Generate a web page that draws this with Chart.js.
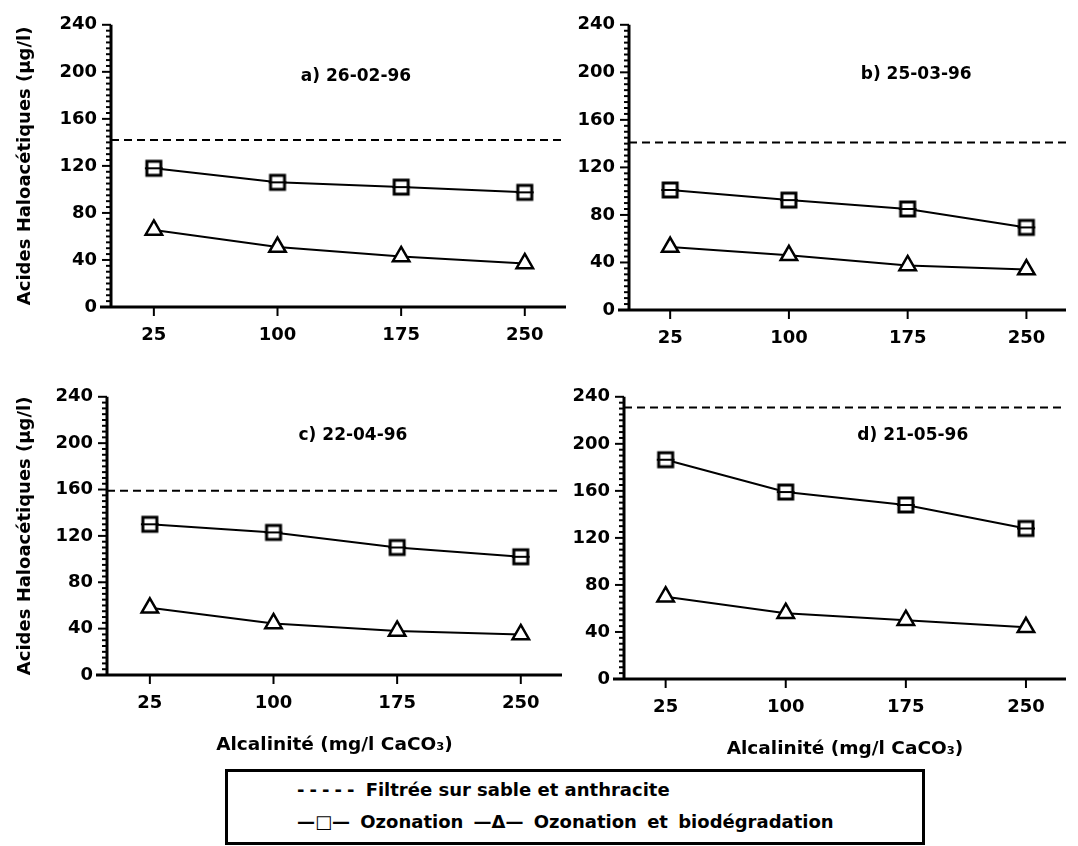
<!DOCTYPE html>
<html lang="fr">
<head>
<meta charset="utf-8">
<title>Acides haloacétiques et alcalinité</title>
<script src="https://cdn.jsdelivr.net/npm/chart.js@4.4.1/dist/chart.umd.min.js"></script>
<style>
  html, body { margin: 0; padding: 0; background: #fff; }
  body { position: relative; width: 1078px; height: 846px; overflow: hidden;
         font-family: "DejaVu Sans", "Liberation Sans", sans-serif; color: #000; }
  canvas { position: absolute; display: block; }
  #legend { position: absolute; left: 225px; top: 769px; width: 700px; height: 76px;
            box-sizing: border-box; border: 3px solid #000; background: #fff; }
  #legend .row { position: absolute; left: 69px; height: 22px; line-height: 22px;
                 font-size: 18px; font-weight: bold; white-space: nowrap; }
  #legend .dash { letter-spacing: 5px; }
  #legend .wide { word-spacing: 4px; }
</style>
</head>
<body>
<canvas id="panelA"></canvas>
<canvas id="panelB"></canvas>
<canvas id="panelC"></canvas>
<canvas id="panelD"></canvas>
<div id="legend">
  <div class="row" id="legendRow1"></div>
  <div class="row wide" id="legendRow2"></div>
</div>
<script>
// Alkalinity levels tested (mg/l CaCO3) and their tick labels
const alcalinite = [25, 100, 175, 250];
const alcaliniteLabels = ['25', '100', '175', '250'];

// Sampling dates, one per panel
const panelTitles = ['a) 26-02-96', 'b) 25-03-96', 'c) 22-04-96', 'd) 21-05-96'];

// Haloacetic acids (µg/l): sand/anthracite filtered water (single level per date)
const filtreeSable = [142, 141, 159, 231];

// Haloacetic acids (µg/l) after ozonation
const ozonationA = [118, 106, 102, 97.5];
const ozonationB = [101, 92.5, 85, 69.5];
const ozonationC = [130, 123, 110, 102];
const ozonationD = [186.5, 159, 148, 128];

// Haloacetic acids (µg/l) after ozonation and biodegradation
const biodegradationA = [65.5, 51, 43, 37];
const biodegradationB = [53, 46, 37.5, 34];
const biodegradationC = [58, 44.5, 38, 35];
const biodegradationD = [70, 56, 50, 44];

// Y axis ticks
const yTickValues = [0, 40, 80, 120, 160, 200, 240];

// Text
const yAxisTitle = 'Acides Haloacétiques (µg/l)';
const xAxisTitle = 'Alcalinité (mg/l CaCO₃)';
const legendFiltree = 'Filtrée sur sable et anthracite';
const legendOzonation = 'Ozonation';
const legendBiodegradation = 'Ozonation et biodégradation';

// ---------------------------------------------------------------------------
const FONT = '"DejaVu Sans", "Liberation Sans", sans-serif';
const X_MIN = -1, X_MAX = 275;
const Y_MIN = yTickValues[0], Y_MAX = yTickValues[yTickValues.length - 1];
const Y_STEP = yTickValues[1] - yTickValues[0];
const Y_MINOR = 5;

// Legend text
document.getElementById('legendRow1').innerHTML =
  '<span class="dash">-----</span> ' + legendFiltree;
document.getElementById('legendRow2').textContent =
  '\u2014\u25A1\u2014 ' + legendOzonation + ' \u2014\u0394\u2014 ' + legendBiodegradation;
document.getElementById('legendRow1').style.top = '7px';
document.getElementById('legendRow2').style.top = '39px';

// Square marker with the crossbar of its error bar
function squareMarker() {
  const c = document.createElement('canvas');
  c.width = 20; c.height = 20;
  const g = c.getContext('2d');
  g.fillStyle = '#fff';
  g.fillRect(3, 3, 14, 14);
  g.strokeStyle = '#000';
  g.lineWidth = 3;
  g.strokeRect(3, 3, 14, 14);
  g.lineWidth = 2;
  g.beginPath(); g.moveTo(1, 10); g.lineTo(19, 10); g.stroke();
  return c;
}
const SQUARE = squareMarker();

// Axis lines, tick marks and the panel caption
const panelFrame = {
  id: 'panelFrame',
  beforeDatasetsDraw(chart, args, opts) {
    const { ctx, chartArea: a, scales: { x, y } } = chart;
    ctx.save();
    ctx.strokeStyle = '#000';
    ctx.lineWidth = 2;
    for (let v = Y_MIN; v <= Y_MAX; v += Y_MINOR) {
      const py = y.getPixelForValue(v);
      const len = (v % Y_STEP === 0) ? 9 : 5;
      ctx.beginPath(); ctx.moveTo(a.left - len, py); ctx.lineTo(a.left, py); ctx.stroke();
    }
    alcalinite.forEach(v => {
      const px = x.getPixelForValue(v);
      ctx.beginPath(); ctx.moveTo(px, a.bottom); ctx.lineTo(px, a.bottom + 9); ctx.stroke();
    });
    ctx.lineWidth = 3;
    ctx.beginPath();
    ctx.moveTo(a.left, a.top); ctx.lineTo(a.left, a.bottom + 1.5);
    ctx.moveTo(a.left - 11, a.bottom); ctx.lineTo(a.right, a.bottom);
    ctx.stroke();
    ctx.fillStyle = '#000';
    ctx.font = 'bold 17px ' + FONT;
    ctx.textAlign = 'center';
    ctx.textBaseline = 'middle';
    ctx.fillText(opts.text, x.getPixelForValue(opts.at[0]), y.getPixelForValue(opts.at[1]));
    ctx.restore();
  }
};

function points(values) {
  return alcalinite.map((v, i) => ({ x: v, y: values[i] }));
}

const panels = [
  { id: 'panelA', frame: { x: 0, y: 0, w: 590, h: 372 }, plot: { left: 111, right: 566, top: 19, bottom: 307 },
    title: panelTitles[0], titleAt: [147.6, 195.8], yTitle: true, xTitle: false,
    filtree: filtreeSable[0], ozonation: ozonationA, biodegradation: biodegradationA },
  { id: 'panelB', frame: { x: 540, y: 0, w: 538, h: 372 }, plot: { left: 629, right: 1077, top: 22, bottom: 310 },
    title: panelTitles[1], titleAt: [180.4, 197.9], yTitle: false, xTitle: false,
    filtree: filtreeSable[1], ozonation: ozonationB, biodegradation: biodegradationB },
  { id: 'panelC', frame: { x: 0, y: 372, w: 590, h: 390 }, plot: { left: 107, right: 562, top: 387, bottom: 675 },
    title: panelTitles[2], titleAt: [148.2, 206.9], yTitle: true, xTitle: true,
    filtree: filtreeSable[2], ozonation: ozonationC, biodegradation: biodegradationC },
  { id: 'panelD', frame: { x: 540, y: 372, w: 538, h: 394 }, plot: { left: 624, right: 1074, top: 391, bottom: 679 },
    title: panelTitles[3], titleAt: [179.3, 207.1], yTitle: false, xTitle: true,
    filtree: filtreeSable[3], ozonation: ozonationD, biodegradation: biodegradationD }
];

panels.forEach(p => {
  const canvas = document.getElementById(p.id);
  canvas.width = p.frame.w; canvas.height = p.frame.h;
  canvas.style.left = p.frame.x + 'px'; canvas.style.top = p.frame.y + 'px';
  const yWidth = p.plot.left - p.frame.x;
  const xHeight = p.frame.y + p.frame.h - p.plot.bottom;

  new Chart(canvas, {
    type: 'line',
    data: {
      datasets: [
        { label: legendFiltree,
          data: [{ x: X_MIN, y: p.filtree }, { x: X_MAX, y: p.filtree }],
          borderColor: '#000', borderWidth: 2, borderDash: [8, 5], pointRadius: 0, fill: false },
        { label: legendOzonation, data: points(p.ozonation),
          borderColor: '#000', borderWidth: 2, pointStyle: SQUARE, pointRadius: 10, fill: false },
        { label: legendBiodegradation, data: points(p.biodegradation),
          borderColor: '#000', borderWidth: 2, pointStyle: 'triangle', pointRadius: 9.5,
          pointBorderWidth: 2.5, pointBackgroundColor: '#fff', pointBorderColor: '#000', fill: false }
      ]
    },
    options: {
      responsive: false,
      animation: false,
      devicePixelRatio: 1,
      events: [],
      layout: { padding: { left: 0, top: p.plot.top - p.frame.y, right: p.frame.x + p.frame.w - p.plot.right, bottom: 0 } },
      plugins: {
        legend: { display: false },
        tooltip: { enabled: false },
        panelFrame: { text: p.title, at: p.titleAt }
      },
      scales: {
        x: {
          type: 'linear', min: X_MIN, max: X_MAX,
          afterBuildTicks: s => { s.ticks = alcalinite.map(v => ({ value: v })); },
          afterFit: s => { s.height = xHeight; },
          grid: { display: false, drawTicks: false },
          border: { display: false },
          ticks: {
            color: '#000', padding: 18, maxRotation: 0, autoSkip: false,
            font: { family: FONT, size: 18, weight: 'bold' },
            callback: v => alcaliniteLabels[alcalinite.indexOf(v)]
          },
          title: {
            display: p.xTitle, text: xAxisTitle, color: '#000',
            font: { family: FONT, size: 18.5, weight: 'bold' },
            padding: { top: 0, bottom: 6 }
          }
        },
        y: {
          min: Y_MIN, max: Y_MAX,
          afterBuildTicks: s => { s.ticks = yTickValues.map(v => ({ value: v })); },
          afterFit: s => { s.width = yWidth; },
          grid: { display: false, drawTicks: false },
          border: { display: false },
          ticks: {
            color: '#000', padding: 14,
            font: { family: FONT, size: 18, weight: 'bold' }
          },
          title: {
            display: p.yTitle, text: yAxisTitle, color: '#000',
            font: { family: FONT, size: 18, weight: 'bold' },
            padding: { top: 15, bottom: 0 }
          }
        }
      }
    },
    plugins: [panelFrame]
  });
});
</script>
</body>
</html>
